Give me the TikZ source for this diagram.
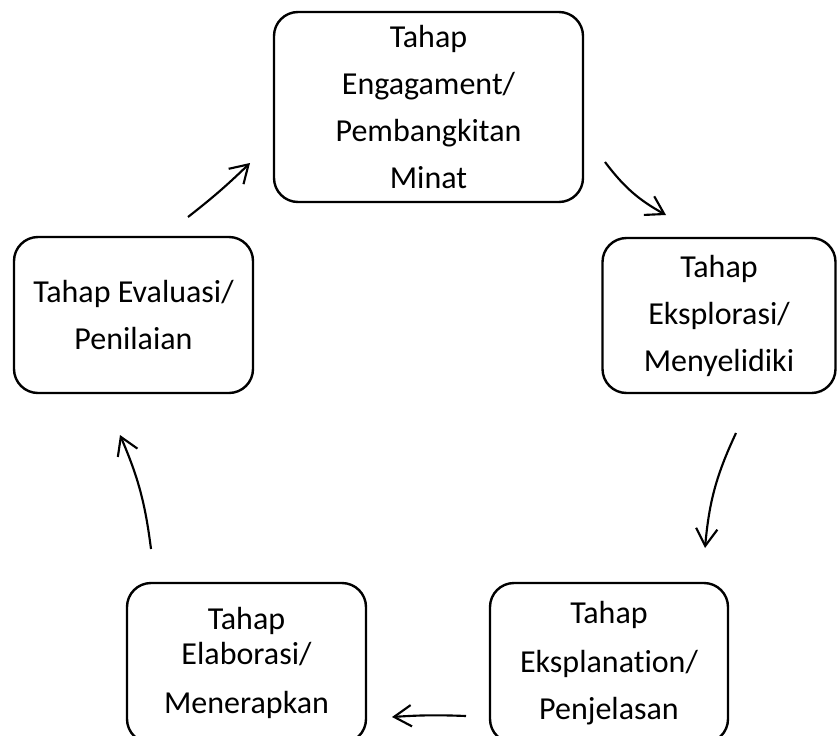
\documentclass[tikz,border=0pt]{standalone}
\usepackage{fontspec}
\setmainfont[Ligatures=NoCommon]{Carlito}
\usetikzlibrary{arrows.meta}

\begin{document}
\begin{tikzpicture}[
  x=0.75pt, y=-0.75pt,
  % Node Styles
  stagebox/.style={rectangle, rounded corners=18pt, draw, line width=1.8pt, align=center, inner sep=0pt},
  % Arrow Styles
  cyclearrow/.style={-{Straight Barb[length=13pt,width=16pt]}, line width=1.6pt},
]
\tikzset{font=\fontsize{24}{35.25}\selectfont}

\useasboundingbox (0,0) rectangle (837,735);

% Learning Cycle: five stages

\node[stagebox, minimum width=231.75pt, minimum height=142.5pt] (Engage) at (428.5,107) {Tahap\\Engagament/\\Pembangkitan\\Minat};
\node[stagebox, minimum width=174.75pt, minimum height=116.25pt] (Explore) at (719,315.5) {Tahap\\Eksplorasi/\\Menyelidiki};
\node[stagebox, minimum width=178.5pt, minimum height=120pt] (Explain) at (609,663) {Tahap\\[2pt]Eksplanation/\\Penjelasan};
\node[stagebox, minimum width=179.25pt, minimum height=120pt] (Elaborate) at (246.5,663) {Tahap\\[-9pt]Elaborasi/\\[1pt]Menerapkan};
\node[stagebox, minimum width=179.25pt, minimum height=117pt] (Evaluate) at (133.5,315) {Tahap Evaluasi/\\Penilaian};

\coordinate (Engage_out) at (605,162);
\coordinate (Explore_in) at (666,215);
\coordinate (Explore_out) at (736,433);
\coordinate (Explain_in) at (705,548);
\coordinate (Explain_out) at (466,716);
\coordinate (Elaborate_in) at (392,717);
\coordinate (Elaborate_out) at (151,549);
\coordinate (Evaluate_in) at (120,435);
\coordinate (Evaluate_out) at (188,217);
\coordinate (Engage_in) at (250,163);

\draw[cyclearrow] (Engage_out) to[bend right=12] (Explore_in);
\draw[cyclearrow] (Explore_out) to[bend right=10] (Explain_in);
\draw[cyclearrow] (Explain_out) to[bend right=3] (Elaborate_in);
\draw[cyclearrow] (Elaborate_out) to[bend right=8] (Evaluate_in);
\draw[cyclearrow] (Evaluate_out) to[bend right=3] (Engage_in);

\end{tikzpicture}
\end{document}
